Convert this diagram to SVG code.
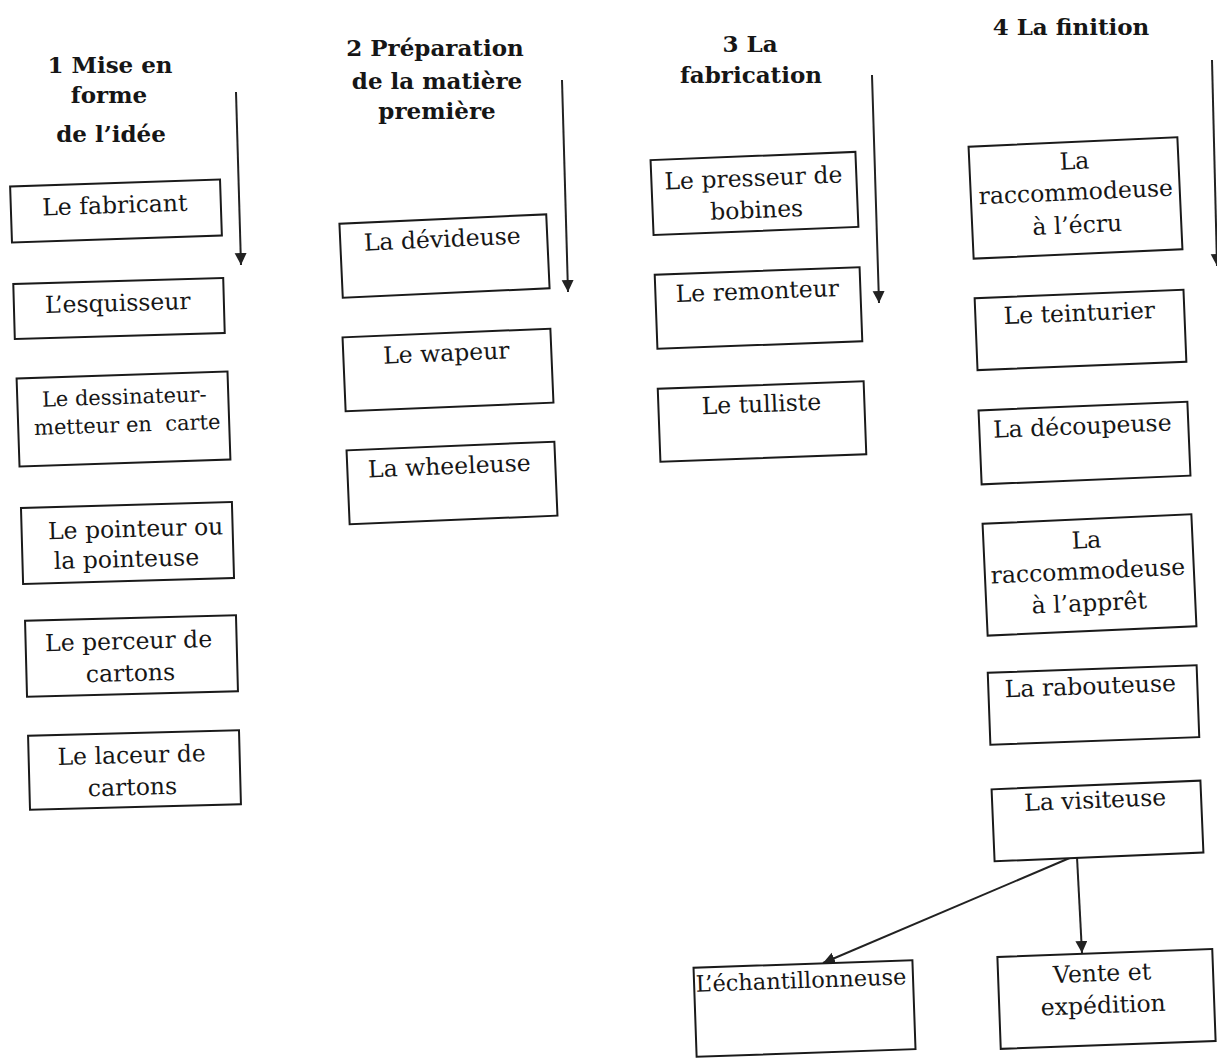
<svg xmlns="http://www.w3.org/2000/svg" width="1217" height="1058" viewBox="0 0 1217 1058">
<defs>
<marker id="ah" markerUnits="userSpaceOnUse" markerWidth="14" markerHeight="14" refX="12" refY="6" orient="auto"><path d="M0,0 L12,6 L0,12 z" fill="#222"/></marker>
<style>
.bx{fill:#fff;stroke:#1a1a1a;stroke-width:2}
.t{font-family:"DejaVu Serif","Liberation Serif",serif;font-size:23.5px;fill:#161616;text-anchor:middle}
.s{font-size:21px}
.e{font-size:22.5px}
.h{font-family:"DejaVu Serif","Liberation Serif",serif;font-size:23px;font-weight:bold;fill:#161616;text-anchor:middle}
.c{fill:none;stroke:#222;stroke-width:2}
</style>
</defs>
<rect width="1217" height="1058" fill="#fff"/>

<g id="titles">
<text class="h" x="110" y="73">1 Mise en</text>
<text class="h" x="109" y="103">forme</text>
<text class="h" x="111" y="142">de l’idée</text>
<text class="h" x="435" y="56">2 Préparation</text>
<text class="h" x="437" y="89">de la matière</text>
<text class="h" x="437" y="119">première</text>
<text class="h" x="750" y="52">3 La</text>
<text class="h" x="751" y="83">fabrication</text>
<text class="h" x="1071" y="35">4 La finition</text>
</g>

<g id="connectors">
<line class="c" x1="236" y1="92" x2="241" y2="265" marker-end="url(#ah)"/>
<line class="c" x1="562" y1="80" x2="568" y2="292" marker-end="url(#ah)"/>
<line class="c" x1="872" y1="75" x2="879" y2="303" marker-end="url(#ah)"/>
<line class="c" x1="1212" y1="60" x2="1217" y2="266" marker-end="url(#ah)"/>
<line class="c" x1="1072" y1="857" x2="823" y2="963" marker-end="url(#ah)"/>
<line class="c" x1="1077" y1="857" x2="1082" y2="953" marker-end="url(#ah)"/>
</g>

<g id="n-fabricant" transform="rotate(-1.9 116 211)">
<rect class="bx" x="11" y="183" width="210" height="56"/>
<text class="t" x="115" y="213">Le fabricant</text>
</g>
<g id="n-esquisseur" transform="rotate(-1.6 119 308)">
<rect class="bx" x="14" y="281" width="210" height="55"/>
<text class="t" x="118" y="311">L’esquisseur</text>
</g>
<g id="n-dessinateur" transform="rotate(-1.9 124 419)">
<rect class="bx" x="18" y="375" width="211" height="88"/>
<text class="t s" x="125" y="404">Le dessinateur-</text>
<text class="t s" x="127" y="432" xml:space="preserve">metteur en  carte</text>
</g>
<g id="n-pointeur" transform="rotate(-1.6 128 543)">
<rect class="bx" x="22" y="505" width="211" height="76"/>
<text class="t" x="136" y="537">Le pointeur ou</text>
<text class="t" x="126" y="567">la pointeuse</text>
</g>
<g id="n-perceur" transform="rotate(-1.5 131 656)">
<rect class="bx" x="26" y="618" width="211" height="76"/>
<text class="t" x="129" y="649">Le perceur de</text>
<text class="t" x="130" y="681">cartons</text>
</g>
<g id="n-laceur" transform="rotate(-1.5 135 770)">
<rect class="bx" x="29" y="733" width="211" height="74"/>
<text class="t" x="132" y="763">Le laceur de</text>
<text class="t" x="132" y="795">cartons</text>
</g>

<g id="n-devideuse" transform="rotate(-2.6 445 256)">
<rect class="bx" x="341" y="219" width="207" height="74"/>
<text class="t" x="443" y="247">La dévideuse</text>
</g>
<g id="n-wapeur" transform="rotate(-2.4 448 370)">
<rect class="bx" x="344" y="333" width="208" height="74"/>
<text class="t" x="447" y="361">Le wapeur</text>
</g>
<g id="n-wheeleuse" transform="rotate(-2.4 452 483)">
<rect class="bx" x="348" y="446" width="208" height="74"/>
<text class="t" x="450" y="474">La wheeleuse</text>
</g>

<g id="n-presseur" transform="rotate(-2.3 754 194)">
<rect class="bx" x="652" y="156" width="205" height="75"/>
<text class="t" x="754" y="186">Le presseur de</text>
<text class="t" x="756" y="218">bobines</text>
</g>
<g id="n-remonteur" transform="rotate(-2.1 758 308)">
<rect class="bx" x="656" y="271" width="205" height="74"/>
<text class="t" x="758" y="299">Le remonteur</text>
</g>
<g id="n-tulliste" transform="rotate(-2.1 762 421)">
<rect class="bx" x="659" y="385" width="206" height="73"/>
<text class="t" x="762" y="412">Le tulliste</text>
</g>

<g id="n-ecru" transform="rotate(-2.6 1075 198)">
<rect class="bx" x="971" y="142" width="209" height="112"/>
<text class="t" x="1076" y="169">La</text>
<text class="t" x="1076" y="200">raccommodeuse</text>
<text class="t" x="1076" y="233">à l’écru</text>
</g>
<g id="n-teinturier" transform="rotate(-2.3 1080 330)">
<rect class="bx" x="976" y="294" width="209" height="72"/>
<text class="t" x="1080" y="321">Le teinturier</text>
</g>
<g id="n-decoupeuse" transform="rotate(-2.4 1085 443)">
<rect class="bx" x="980" y="406" width="209" height="74"/>
<text class="t" x="1083" y="434">La découpeuse</text>
</g>
<g id="n-appret" transform="rotate(-2.6 1089 575)">
<rect class="bx" x="985" y="519" width="209" height="112"/>
<text class="t" x="1088" y="548">La</text>
<text class="t" x="1088" y="579">raccommodeuse</text>
<text class="t" x="1088" y="611">à l’apprêt</text>
</g>
<g id="n-rabouteuse" transform="rotate(-2.1 1093 705)">
<rect class="bx" x="989" y="669" width="209" height="72"/>
<text class="t" x="1091" y="694">La rabouteuse</text>
</g>
<g id="n-visiteuse" transform="rotate(-2.4 1097 821)">
<rect class="bx" x="993" y="785" width="209" height="72"/>
<text class="t" x="1096" y="808">La visiteuse</text>
</g>

<g id="n-echantillonneuse" transform="rotate(-2.0 804 1008)">
<rect class="bx" x="695" y="964" width="219" height="89"/>
<text class="t e" x="802" y="988">L’échantillonneuse</text>
</g>
<g id="n-vente" transform="rotate(-2.1 1106 999)">
<rect class="bx" x="999" y="953" width="215" height="92"/>
<text class="t" x="1103" y="981">Vente et</text>
<text class="t" x="1103" y="1013">expédition</text>
</g>
</svg>
